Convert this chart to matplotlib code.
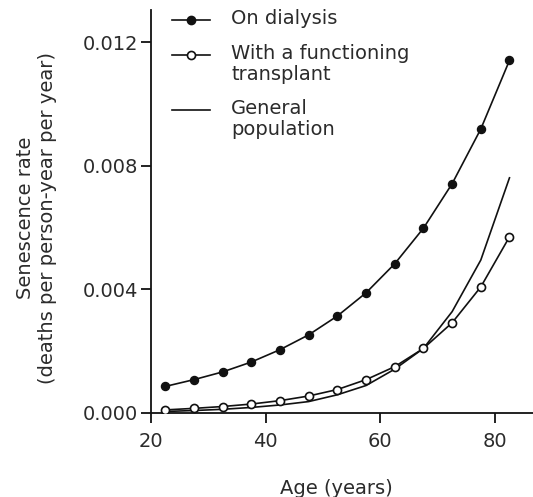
"""Senescence rate by age: dialysis vs functioning transplant vs general population."""

import matplotlib

matplotlib.use("Agg")
import matplotlib.pyplot as plt
from matplotlib.lines import Line2D

AGE = [22.5, 27.5, 32.5, 37.5, 42.5, 47.5, 52.5, 57.5, 62.5, 67.5, 72.5, 77.5, 82.5]
DIALYSIS = [0.00086, 0.00108, 0.00133, 0.00165, 0.00205, 0.00253, 0.00314,
            0.00389, 0.00483, 0.00598, 0.00742, 0.00919, 0.01141]
TRANSPLANT = [0.00010, 0.00015, 0.00021, 0.00029, 0.00040, 0.00055, 0.00076,
              0.00108, 0.00150, 0.00209, 0.00292, 0.00408, 0.00570]
GENERAL = [0.00005, 0.00008, 0.00012, 0.00018, 0.00026, 0.00037, 0.00059,
           0.00089, 0.00142, 0.00209, 0.00328, 0.00495, 0.00761]

XTICKS = [20, 40, 60, 80]
YTICKS = [0.000, 0.004, 0.008, 0.012]
LEGEND = ["On dialysis", "With a functioning\ntransplant", "General\npopulation"]

INK = "#111111"
TXT = "#2b2b2b"
FS = 14

plt.rcParams["font.family"] = ["DejaVu Sans"]
fig = plt.figure(figsize=(5.33, 4.97), dpi=100)
ax = fig.add_axes([151 / 533, 84 / 497, 1 - 151 / 533, 403 / 497])

ax.plot(AGE, GENERAL, color=INK, lw=1.2, zorder=2)
ax.plot(AGE, TRANSPLANT, color=INK, lw=1.2, marker="o", ms=5.8,
        mfc="white", mec=INK, mew=1.2, zorder=3)
ax.plot(AGE, DIALYSIS, color=INK, lw=1.2, marker="o", ms=5.8,
        mfc=INK, mec=INK, zorder=4)

ax.set_xlim(20, 86.6)
ax.set_ylim(0, 0.01304)
ax.set_xticks(XTICKS)
ax.set_yticks(YTICKS)
ax.set_yticklabels([f"{v:.3f}" for v in YTICKS])
for s in ("top", "right"):
    ax.spines[s].set_visible(False)
for s in ("left", "bottom"):
    ax.spines[s].set_linewidth(1.3)
    ax.spines[s].set_color(INK)
ax.tick_params(direction="out", length=7, width=1.3, color=INK,
               labelsize=FS, labelcolor=TXT)
ax.tick_params(axis="x", pad=7)
ax.tick_params(axis="y", pad=2)

ax.set_xlabel("Age (years)", fontsize=FS, color=TXT)
ax.xaxis.set_label_coords((336 - 151) / 382, -(479 - 413) / 403)
ax.set_ylabel("Senescence rate\n(deaths per person-year per year)",
              fontsize=FS, color=TXT, linespacing=1.2)
ax.yaxis.set_label_coords(-(151 - 57) / 382, (413 - 218) / 403)

# hand-built legend: handle sits on the first text line
styles = [dict(marker="o", mfc=INK), dict(marker="o", mfc="white"), dict(marker=None)]
rows = [20, 55, 110]
x0, x1 = (172 - 151) / 382, (210 - 151) / 382
for lab, st, yp in zip(LEGEND, styles, rows):
    yf = (413 - yp) / 403
    ax.add_line(Line2D([x0, x1], [yf, yf], transform=ax.transAxes, color=INK,
                       lw=1.2, clip_on=False))
    if st["marker"]:
        ax.add_line(Line2D([(x0 + x1) / 2], [yf], transform=ax.transAxes,
                           marker="o", ms=5.8, mfc=st["mfc"], mec=INK, mew=1.2,
                           ls="none", clip_on=False))
    ax.text((231 - 151) / 382, yf + 11 / 403, lab, transform=ax.transAxes,
            fontsize=FS, color=TXT, va="top", ha="left", linespacing=1.12)

fig.savefig("out.png", dpi=100)
